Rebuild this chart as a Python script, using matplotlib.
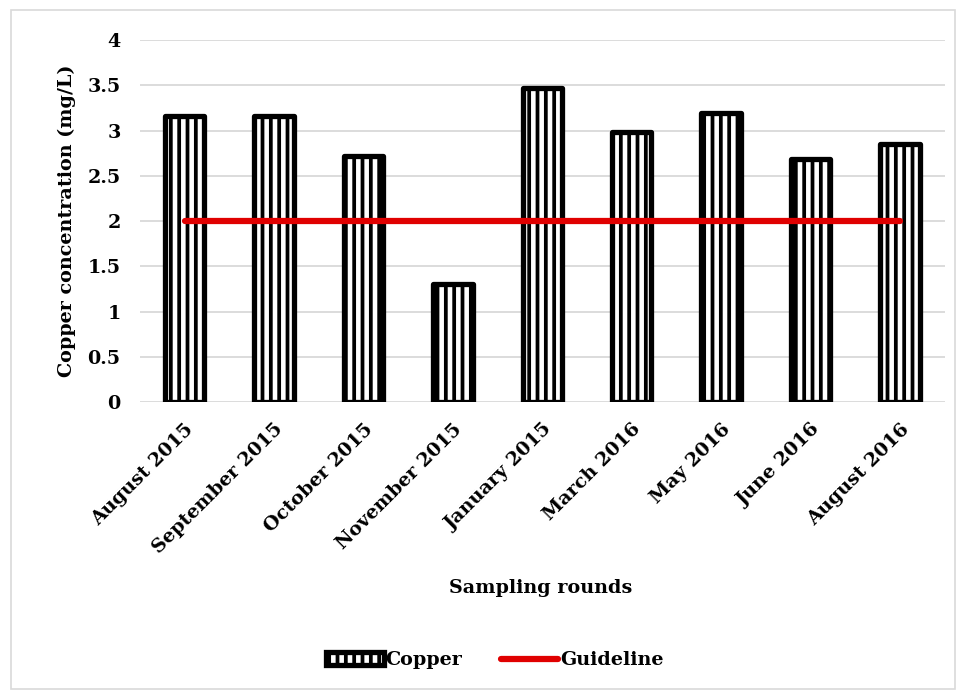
import matplotlib.pyplot as plt
import matplotlib.patches as mpatches
import numpy as np

plt.rcParams['font.family'] = ['DejaVu Serif']
plt.rcParams['font.weight'] = 'bold'
plt.rcParams['hatch.linewidth'] = 2.7

# 数据
months = ['August 2015', 'September 2015', 'October 2015', 'November 2015',
          'January 2015', 'March 2016', 'May 2016', 'June 2016', 'August 2016']
copper = [3.16, 3.16, 2.72, 1.30, 3.47, 2.99, 3.19, 2.69, 2.85]
guideline = [2, 2, 2, 2, 2, 2, 2, 2, 2]
yticks = [0, 0.5, 1, 1.5, 2, 2.5, 3, 3.5, 4]
ytick_labels = ['0', '0.5', '1', '1.5', '2', '2.5', '3', '3.5', '4']

fs = 13.8

fig = plt.figure(figsize=(9.61, 6.93), dpi=100)
ax = fig.add_axes([0.1457, 0.42, 0.8373, 0.522])

x = np.arange(len(months))
bars = ax.bar(x, copper, width=0.44, color='white', edgecolor='black',
              linewidth=3.8, hatch='||', joinstyle='round', zorder=3, label='Copper')
ax.plot(x, guideline, color='#e00000', linewidth=4.5, solid_capstyle='round',
        zorder=4, label='Guideline')

ax.set_xlim(-0.5, len(months) - 0.5)
ax.set_ylim(0, 4)
ax.set_yticks(yticks)
ax.set_yticklabels(ytick_labels, fontsize=fs, fontweight='bold')
ax.set_xticks(x)
ax.set_xticklabels(months, rotation=45, ha='right', rotation_mode='anchor',
                   fontsize=fs, fontweight='bold')
ax.tick_params(axis='y', length=0, pad=14)
ax.tick_params(axis='x', length=0, pad=13)
ax.grid(axis='y', color='#d9d9d9', linewidth=1.3, zorder=0)
for s in ax.spines.values():
    s.set_visible(False)

ax.set_ylabel('Copper concentration (mg/L)', fontsize=fs, fontweight='bold', labelpad=8)
fig.text(0.563, 0.151, 'Sampling rounds', ha='center', va='center',
         fontsize=fs, fontweight='bold')

fig.legend(handles=[bars, ax.lines[0]], loc='center', bbox_to_anchor=(0.515, 0.047),
           ncol=2, frameon=False, fontsize=fs, handlelength=3.0,
           handletextpad=0.1, columnspacing=2.0)

# 外框
fig.patches.append(mpatches.Rectangle((0.011, 0.006), 0.983, 0.98, transform=fig.transFigure,
                                      fill=False, edgecolor='#d9d9d9', linewidth=1.2))

fig.savefig('out.png', dpi=100)
